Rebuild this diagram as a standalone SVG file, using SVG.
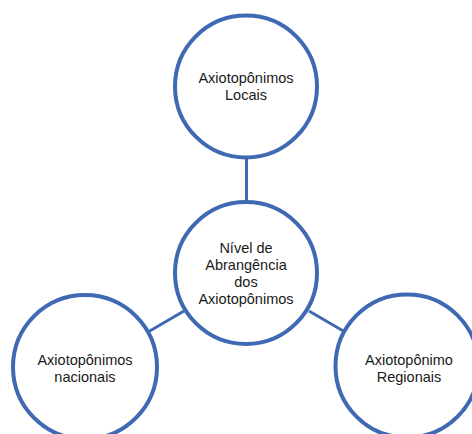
<svg xmlns="http://www.w3.org/2000/svg" width="472" height="434" viewBox="0 0 472 434">
<style>
.node{fill:#ffffff;stroke:#3F69B3;stroke-width:4}
.conn{stroke:#3F69B3;stroke-width:3;fill:none}
.lbl{font-family:"Liberation Sans",Arial,sans-serif;font-size:14.5px;fill:#1a1a1a;text-anchor:middle}
</style>
<rect width="472" height="434" fill="#ffffff"/>
<g id="connectors">
<line class="conn" x1="246.5" y1="157" x2="246.5" y2="202"/>
<line class="conn" x1="148" y1="332" x2="184" y2="311"/>
<line class="conn" x1="309" y1="311" x2="345" y2="332"/>
</g>
<g id="node-top">
<circle class="node" cx="246" cy="86.5" r="71"/>
<text class="lbl" x="246" y="83">Axiotopônimos</text>
<text class="lbl" x="246" y="100">Locais</text>
</g>
<g id="node-center">
<circle class="node" cx="246" cy="273" r="71"/>
<text class="lbl" x="246" y="253">Nível de</text>
<text class="lbl" x="246" y="270">Abrangência</text>
<text class="lbl" x="246" y="287">dos</text>
<text class="lbl" x="246" y="304">Axiotopônimos</text>
</g>
<g id="node-left">
<circle class="node" cx="85" cy="367" r="72"/>
<text class="lbl" x="85" y="365">Axiotopônimos</text>
<text class="lbl" x="85" y="382">nacionais</text>
</g>
<g id="node-right">
<circle class="node" cx="407" cy="366" r="71.5"/>
<text class="lbl" x="409" y="365">Axiotopônimo</text>
<text class="lbl" x="409" y="382">Regionais</text>
</g>
</svg>
